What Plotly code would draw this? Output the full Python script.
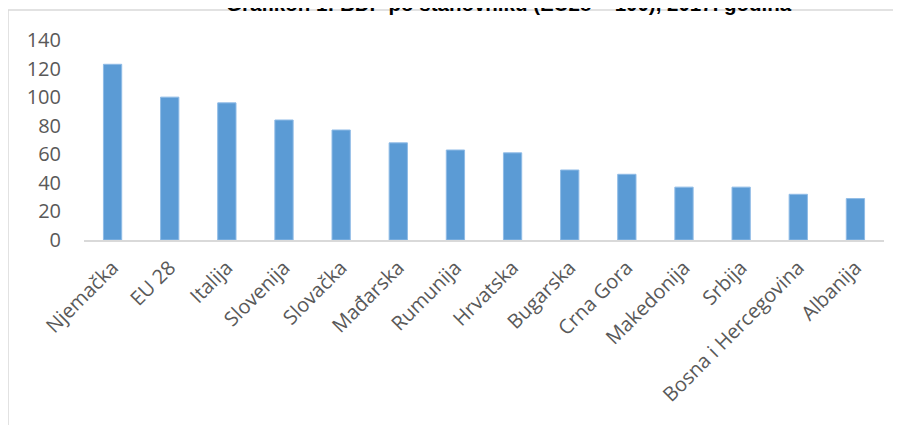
import plotly.graph_objects as go

categories = ["Njemačka", "EU 28", "Italija", "Slovenija", "Slovačka", "Mađarska",
              "Rumunija", "Hrvatska", "Bugarska", "Crna Gora", "Makedonija", "Srbija",
              "Bosna i Hercegovina", "Albanija"]
values = [123, 100, 96, 84, 77, 68, 63, 61, 49, 46, 37, 37, 32, 29]
y_ticks = [0, 20, 40, 60, 80, 100, 120, 140]
title_text = "Grafikon 1: BDP po stanovniku (EU28 = 100), 2017. godina"

# page has an 8px body margin, so the figure is drawn at (8, 8)
OFF = 8
W, H = 901 - OFF, 425 - OFF
ML, MR, MT, MB = 76, 17, 32, 185
PW, PH = W - ML - MR, H - MT - MB


def px_x(px):
    return (px - OFF - ML) / PW


def px_y(py):
    return (H - MB - (py - OFF)) / PH


fig = go.Figure(go.Bar(
    x=categories, y=values,
    marker=dict(color="#5b9bd5", line=dict(color="#8fbbe6", width=1)),
    width=0.32,
))

fig.update_layout(
    width=W, height=H,
    margin=dict(l=ML, r=MR, t=MT, b=MB, pad=0),
    paper_bgcolor="white", plot_bgcolor="white",
    showlegend=False,
    font=dict(family="Open Sans", color="#595959", size=20),
    xaxis=dict(
        showgrid=False, showline=True, linecolor="#d9d9d9", linewidth=2,
        tickangle=-45, ticks="outside", ticklen=6, tickcolor="rgba(0,0,0,0)",
        tickfont=dict(size=20, color="#595959"),
        range=[-0.5, len(categories) - 0.5],
    ),
    yaxis=dict(
        showgrid=False, showline=False, zeroline=False,
        range=[0, 140], tickvals=y_ticks, ticks="",
        ticklabelstandoff=22,
        tickfont=dict(size=20, color="#595959"),
    ),
    shapes=[dict(
        type="rect", xref="paper", yref="paper",
        x0=px_x(8), x1=px_x(930), y0=px_y(10), y1=px_y(460),
        line=dict(color="#d9d9d9", width=1.5), fillcolor="rgba(0,0,0,0)", layer="below",
    )],
    annotations=[dict(
        text="<b>" + title_text + "</b>", xref="paper", yref="paper",
        x=px_x(509), y=px_y(17), xanchor="center", yanchor="bottom",
        showarrow=False,
        font=dict(family="Liberation Sans, Arial", size=20.5, color="black"),
    )],
)

fig.write_html("out.html")
